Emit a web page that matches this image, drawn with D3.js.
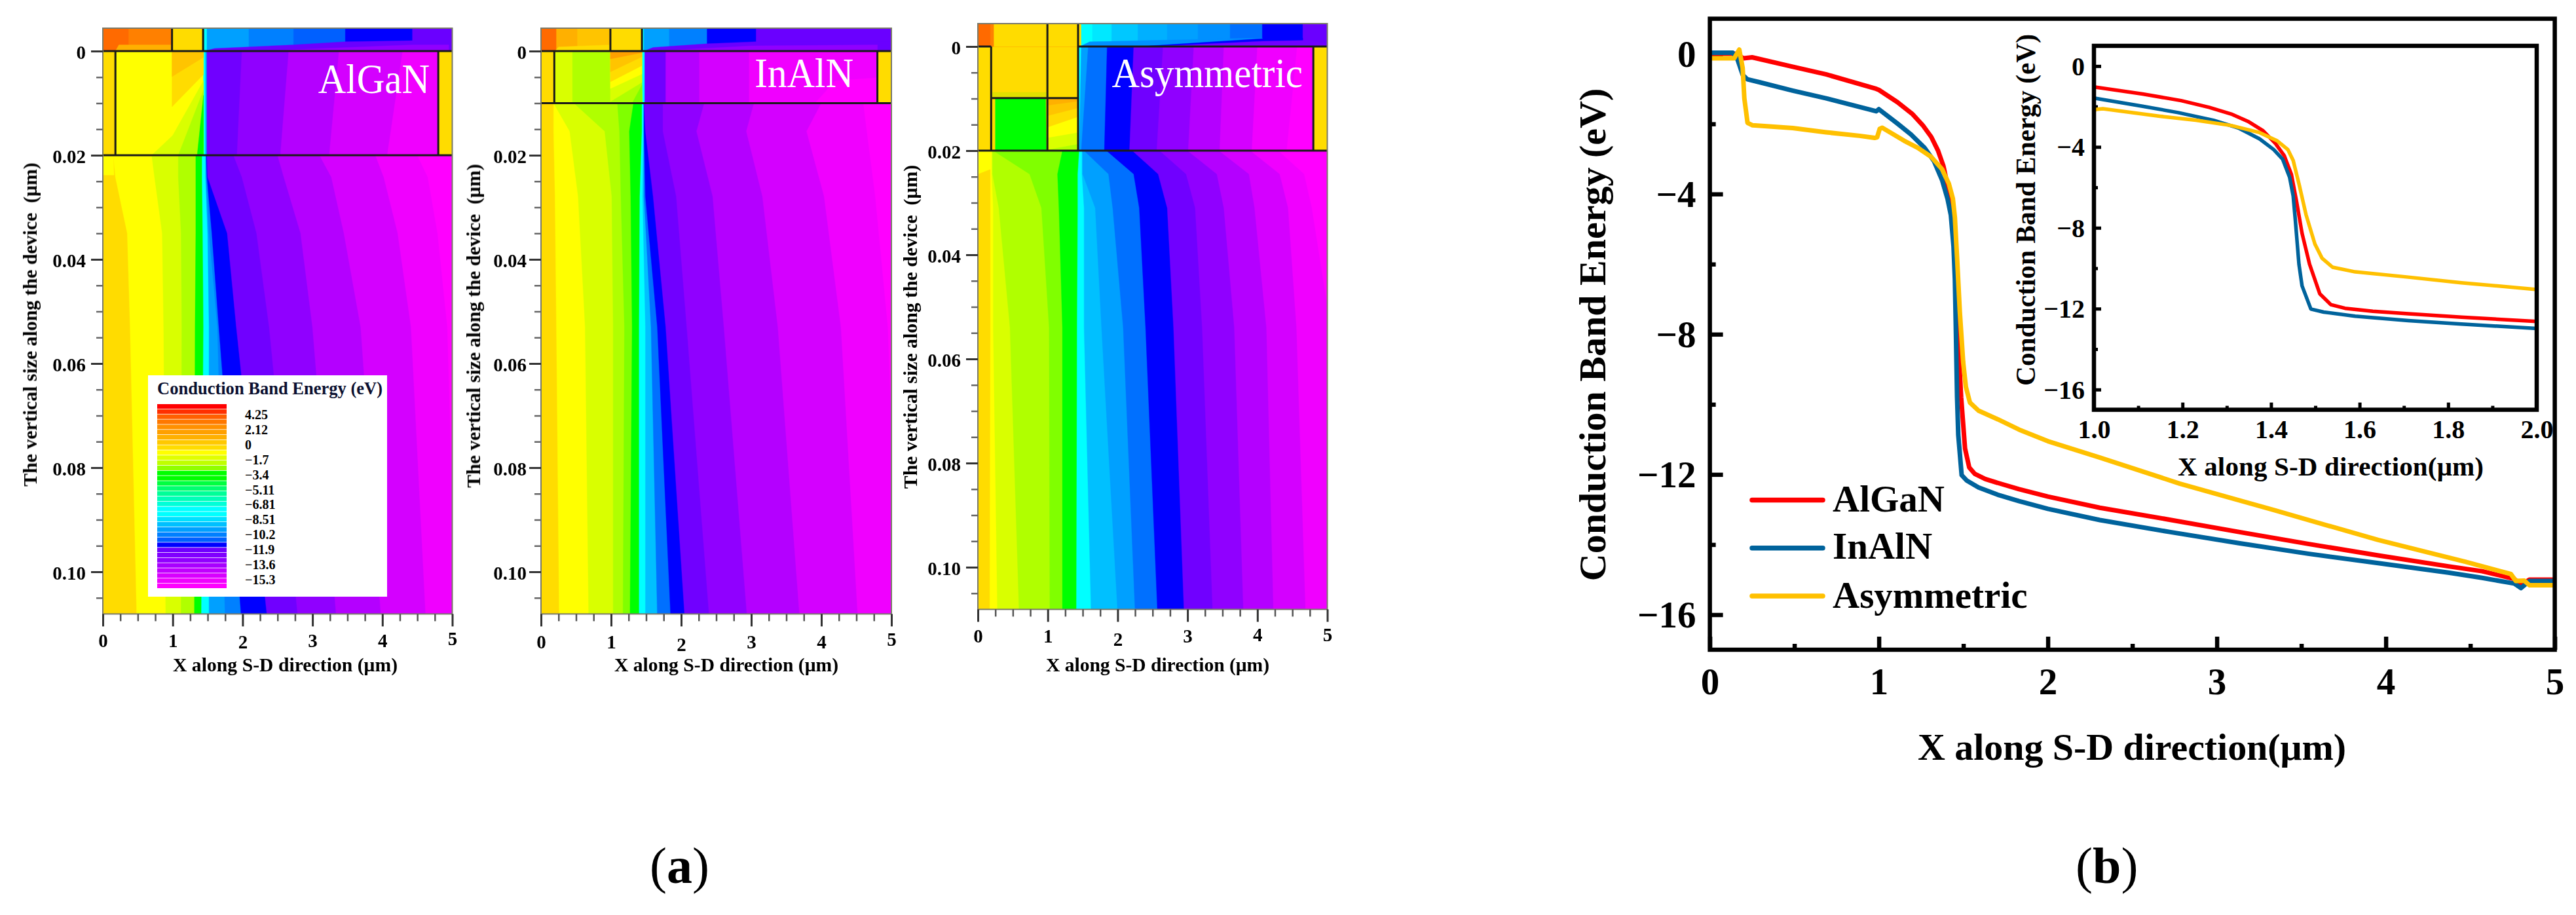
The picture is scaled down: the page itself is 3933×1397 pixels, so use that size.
<!DOCTYPE html>
<html><head><meta charset="utf-8">
<script src="https://cdn.jsdelivr.net/npm/d3@7/dist/d3.min.js"></script>
<style>
html,body{margin:0;padding:0;background:#fff}
svg{display:block}
text{font-family:"Liberation Serif","Times New Roman",serif;fill:#000}
</style></head><body>
<svg id="c" width="3933" height="1397"></svg>
<script>
// ---------- Line chart values: X position (um) and conduction band energy (eV)
const algan_x=[0,.15,.2,.25,.49,.69,.985,1,1.11,1.197,1.26,1.31,1.35,1.382,1.41,1.43,1.446,1.458,1.47,1.487,1.51,1.535,1.567,1.63,1.71,1.83,2,2.308,2.72,3.13,3.54,3.955,4.37,4.57,4.76,4.8,4.85,5];
const algan_e=[0,0,-.13,-.1,-.37,-.59,-1.0,-1.03,-1.38,-1.71,-2.04,-2.37,-2.76,-3.2,-3.83,-4.44,-5.36,-6.74,-8.27,-9.8,-11.26,-11.8,-11.98,-12.13,-12.25,-12.42,-12.63,-12.95,-13.29,-13.64,-13.98,-14.31,-14.62,-14.76,-14.98,-15.16,-15,-15];
const inaln_x=[0,.135,.164,.194,.223,.293,.49,.688,.985,1,1.11,1.19,1.27,1.326,1.374,1.406,1.426,1.442,1.45,1.455,1.463,1.47,1.49,1.519,1.59,1.71,1.83,2,2.308,2.72,3.13,3.54,3.955,4.37,4.57,4.76,4.8,4.85,5];
const inaln_e=[.03,.03,-.17,-.6,-.73,-.81,-1.05,-1.27,-1.64,-1.58,-1.99,-2.3,-2.68,-3.06,-3.6,-4.13,-4.6,-5.5,-6.43,-7.66,-9.8,-10.87,-12.02,-12.17,-12.37,-12.59,-12.76,-12.98,-13.3,-13.64,-13.96,-14.26,-14.53,-14.8,-14.95,-15.11,-15.24,-15.04,-15.04];
const asym_x=[0,.144,.174,.194,.204,.223,.253,.49,.688,.886,.975,.99,1.005,1.02,1.149,1.23,1.31,1.374,1.414,1.438,1.45,1.463,1.479,1.499,1.515,1.539,1.59,1.71,1.83,2,2.308,2.78,3.34,3.955,4.47,4.74,4.77,4.82,4.85,5];
const asym_e=[-.13,-.13,.12,-.4,-1.27,-1.97,-2.04,-2.12,-2.24,-2.34,-2.4,-2.38,-2.14,-2.11,-2.48,-2.68,-2.94,-3.29,-3.7,-4.13,-4.67,-5.82,-7.35,-8.8,-9.5,-9.95,-10.18,-10.44,-10.72,-11.05,-11.52,-12.26,-13.02,-13.87,-14.49,-14.84,-15.04,-15.03,-15.16,-15.16];
const seriesNames=["AlGaN","InAlN","Asymmetric"];
const mainXTicks=[0,1,2,3,4,5], mainXMinor=[.5,1.5,2.5,3.5,4.5];
const mainYTicks=[0,-4,-8,-12,-16], mainYMinor=[-2,-6,-10,-14];
const insetXTicks=[1,1.2,1.4,1.6,1.8,2], insetXMinor=[1.1,1.3,1.5,1.7,1.9];
const insetYTicks=[0,-4,-8,-12,-16], insetYMinor=[-2,-6,-10,-14];

// ---------- Contour panels: band boundary x (um) at given depths (um)
const panelNames=["AlGaN","InAlN","Asymmetric"];
const panelXTicks=[0,1,2,3,4,5], panelXMinor=[.25,.5,.75,1.25,1.5,1.75,2.25,2.5,2.75,3.25,3.5,3.75,4.25,4.5,4.75];
const panelYTicks=[0,.02,.04,.06,.08,.10], panelYMinor=[.005,.01,.015,.025,.03,.035,.045,.05,.055,.065,.07,.075,.085,.09,.095,.105];
const legendLabels=["4.25","2.12","0","−1.7","−3.4","−5.11","−6.81","−8.51","−10.2","−11.9","−13.6","−15.3"];
const legendStripes=["#ff0000","#ff3000","#ff6000","#ff7800","#ff9000","#ffa000","#ffb000","#ffc800","#ffdc00","#ffff00","#e0ff00","#c0ff00","#90ff00","#00ff00","#00ff00","#00ff40","#00ff70","#00ff98","#00ffb8","#00ffd8","#00ffff","#00ffff","#00e0ff","#00c0ff","#00a0ff","#0080ff","#0060ff","#0000ff","#7000ff","#8000ff","#9000ff","#a800ff","#c000ff","#d800ff","#f000ff","#ff00ff"];

const P={g:"#ffdc00",y:"#ffff00",l1:"#d9ff00",l2:"#b0ff00",l3:"#80ff00",gr:"#00ff00",c:"#00ffff",s:"#00c0ff",a1:"#00a0ff",a2:"#0070ff",b:"#0000ff",v1:"#7000ff",v2:"#9000ff",v3:"#b400ff",v4:"#d400ff",v5:"#f000ff",m:"#ff00ff",
 o1:"#ff6a00",o2:"#ff8000",o3:"#ffa000",o4:"#ffb000",o5:"#ffc400",c2:"#00e8ff",c3:"#00c8ff",c4:"#00b0ff",a3:"#0090ff",a4:"#0060ff",a5:"#0080ff",v0:"#6a00ff",p:"#e0e000"};

// AlGaN panel
const cap1=[["o2",.37],["g",.99],["c",1.435],["a1",1.49],["a5",2.09],["a4",2.73],["b",3.47],["v0",4.43]];
const capPatch1=[["o4",[[.18,0],[.23,-.0012],[.99,-.0012],[.99,0]]],["v0",[[1.45,0],[1.6,-.0005],[2.73,-.0012],[3.47,-.0018],[4.43,-.002],[5,-.002],[5,0]]],["v2",[[2.2,0],[3.5,-.0007],[4.43,-.0012],[4.95,-.0012],[4.95,0]]]];
const barrierDepth1=[0,.02];
const barrier1=[["y",[.18,.18]],["c",[1.44,1.44]],["a1",[1.47,1.47]],["v1",[1.49,1.49]],["v2",[1.99,1.92]],["v3",[2.66,2.54]],["v4",[3.38,3.24]],["v5",[4.29,4.07]],["g",[4.8,4.8]]];
const barrierPatch1=[["l1",[[.7,.02],[1,.0162],[1.44,.0057],[1.44,.02]]],["l2",[[1.08,.02],[1.44,.0075],[1.44,.02]]],["gr",[[1.35,.02],[1.44,.0085],[1.44,.02]]],["g",[[.99,0],[1.44,0],[1.44,.0045],[.99,.0107]]],["o5",[[.99,0],[1.44,0],[1.44,.0012],[.99,.0049]]]];
const bulkDepth1=[.02,.0242,.035,.053,.1085];
const bulk1=[["y",[.15,.18,.35,.39,.485]],["l1",[.7,.74,.85,.87,.9]],["l2",[1.08,1.08,1.12,1.13,1.12]],["gr",[1.33,1.33,1.33,1.32,1.31]],["c",[1.42,1.42,1.43,1.44,1.41]],["a1",[1.47,1.47,1.5,1.52,1.52]],["a5",[1.475,1.48,1.52,1.64,1.75]],["b",[1.48,1.49,1.56,1.66,1.98]],["v1",[1.49,1.5,1.78,1.91,2.35]],["v2",[1.87,1.99,2.2,2.38,2.79]],["v3",[2.5,2.59,2.83,3,3.34]],["v4",[3.1,3.27,3.45,3.69,3.98]],["v5",[3.9,4.02,4.22,4.41,4.62]],["m",[4.5,4.65,4.79,4.93,5.05]]];
const bulkPatch1=[["y",[[0,.02],[.15,.02],[.16,.0238],[0,.0238]]]];
const lines1=[[0,0,5,0],[0,.02,5,.02],[.18,0,.18,.02],[4.8,0,4.8,.02],[.99,-.0044,.99,0],[1.435,-.0044,1.435,0]];

// InAlN panel
const cap2=[["o4",.22],["o5",.52],["g",.99],["c",1.44],["a1",1.47],["a5",1.83],["b",2.37],["v0",3.07]];
const capPatch2=[["g",[[.2,0],[.25,-.0008],[.99,-.0012],[.99,0]]],["v0",[[1.47,0],[1.6,-.0007],[2.37,-.0014],[3.07,-.0018],[5,-.0018],[5,0]]],["v2",[[1.6,0],[3,-.001],[4.8,-.0012],[4.8,0]]]];
const barrierDepth2=[0,.01];
const barrier2=[["l1",[.19,.19]],["l2",[.45,.45]],["c",[1.44,1.45]],["v1",[1.48,1.48]],["v3",[1.78,1.78]],["v4",[2.26,2.26]],["v5",[2.97,2.97]],["g",[4.8,4.8]]];
const barrierPatch2=[["l3",[[1.3,.01],[1.44,.0065],[1.44,.01]]],["l1",[[.99,0],[1.44,0],[1.44,.006],[.99,.0097]]],["y",[[.99,0],[1.44,0],[1.44,.0044],[.99,.0072]]],["g",[[.99,0],[1.44,0],[1.44,.0028],[.99,.0059]]],["o5",[[.99,0],[1.44,0],[1.44,.0011],[.99,.004]]],["o3",[[.99,0],[1.44,0],[1.44,.0003],[.99,.0015]]],["m",[[3.91,.01],[4.2,.0057],[4.8,.0051],[4.8,.01]]]];
const bulkDepth2=[.01,.0154,.0279,.053,.1085];
const bulk2=[["y",[.18,.18,.2,.22,.26]],["l1",[.18,.41,.53,.63,.68]],["l2",[.47,.91,1.01,1.03,1.03]],["l3",[1.09,1.12,1.14,1.19,1.17]],["gr",[1.32,1.26,1.28,1.3,1.27]],["c",[1.44,1.44,1.41,1.4,1.4]],["s",[1.46,1.46,1.45,1.49,1.49]],["a2",[1.47,1.47,1.47,1.57,1.66]],["b",[1.47,1.47,1.49,1.66,1.85]],["v1",[1.47,1.49,1.6,1.78,2.05]],["v2",[1.74,1.74,1.93,2.08,2.4]],["v3",[2.33,2.22,2.45,2.61,2.94]],["v4",[3.04,2.93,3.16,3.38,3.69]],["v5",[4,3.79,4.04,4.28,4.52]],["m",[4.6,4.65,4.77,4.95,5.1]]];
const bulkPatch2=[];
const lines2=[[0,0,5,0],[0,.01,5,.01],[.19,0,.19,.01],[4.8,0,4.8,.01],[.99,-.0044,.99,0],[1.44,-.0044,1.44,0]];

// Asymmetric panel
const cap3=[["o2",.18],["g",.23],["c",1.48],["c2",1.64],["c3",1.915],["c4",2.29],["a1",2.71],["a3",3.15],["a2",3.61],["b",4.07],["v0",4.65]];
const capPatch3=[["a3",[[1.46,0],[1.6,-.0009],[3.6,-.0015],[4.07,-.0016],[4.07,0]]],["b",[[2.31,0],[4.07,-.0015],[4.65,-.0016],[4.65,0]]],["v1",[[2.5,0],[4.07,-.001],[4.75,-.0012],[4.98,-.0005],[4.98,0]]]];
const barrierDepth3=[0,.02];
const barrier3=[["c",[1.44,1.43]],["a1",[1.48,1.45]],["a2",[1.58,1.48]],["b",[1.85,1.81]],["v1",[2.23,2.17]],["v2",[2.65,2.56]],["v3",[3.09,3.01]],["v4",[3.52,3.46]],["v5",[4,3.92]],["m",[4.57,4.42]],["g",[4.8,4.8]]];
const barrierPatch3=[["p",[[.2,.0088],[.995,.0088],[.995,.01],[.2,.01]]],["gr",[[.25,.01],[.97,.01],[.98,.02],[.25,.02]]],["l2",[[.995,.01],[1.434,.01],[1.434,.02],[.995,.02]]],["l1",[[.995,.01],[1.434,.01],[1.434,.0187],[.995,.0198]]],["y",[[.995,.01],[1.434,.01],[1.434,.0165],[.995,.0175]]],["g",[[.995,.01],[1.434,.01],[1.434,.0135],[.995,.0155]]],["o5",[[.995,.01],[1.434,.01],[1.434,.0118],[.995,.0133]]],["o4",[[.995,.01],[1.434,.01],[1.434,.0105],[.995,.0113]]]];
const bulkDepth3=[.02,.0245,.031,.054,.1085];
const bulk3=[["y",[.18,.18,.18,.18,.17]],["l1",[.2,.2,.22,.22,.28]],["l2",[.21,.21,.3,.46,.59]],["l3",[.22,.74,.91,1.02,1.03]],["gr",[1.21,1.14,1.16,1.21,1.21]],["c",[1.45,1.43,1.43,1.42,1.41]],["s",[1.49,1.49,1.52,1.52,1.62]],["a1",[1.5,1.5,1.68,1.77,2]],["a2",[1.52,1.87,1.93,2.08,2.25]],["b",[1.84,2.23,2.31,2.4,2.57]],["v1",[2.21,2.58,2.71,2.8,2.95]],["v2",[2.6,2.98,3.11,3.21,3.36]],["v3",[3,3.42,3.52,3.67,3.8]],["v4",[3.45,3.88,3.96,4.13,4.23]],["v5",[3.9,4.32,4.44,4.56,4.69]],["m",[4.3,4.67,4.78,5.05,5.1]]];
const bulkPatch3=[["y",[[0,.02],[.19,.02],[.19,.0235],[0,.0245]]]];
const lines3=[[0,0,.19,0],[1.434,0,5,0],[0,.02,5,.02],[.19,0,.19,.02],[.995,-.0043,.995,.02],[1.434,-.0043,1.434,.02],[.2,.0099,1.434,.0099],[4.8,0,4.8,.02]];

const svg=d3.select("#c");
const bold=s=>s.attr("font-weight","bold");
const lineGen=d3.line();

// ---------- Panel (a)
const gA=svg.append("g").style("filter","blur(0.7px)");
const layouts=[
 {L:157,R:690.5,Y0:78,lbl:8,yt:[56,495.5],xt:[264,607],name:[656,142],data:[cap1,capPatch1,barrierDepth1,barrier1,barrierPatch1,bulkDepth1,bulk1,bulkPatch1,lines1]},
 {L:826,R:1361,Y0:78,lbl:4,yt:[733,497.5],xt:[938,1280],name:[1303,133],data:[cap2,capPatch2,barrierDepth2,barrier2,barrierPatch2,bulkDepth2,bulk2,bulkPatch2,lines2]},
 {L:1493,R:2026.5,Y0:71,lbl:8,yt:[1400,499],xt:[1597,1938],name:[1989,133],data:[cap3,capPatch3,barrierDepth3,barrier3,barrierPatch3,bulkDepth3,bulk3,bulkPatch3,lines3]}
];
const tickDy=[[0,0,2,0,0,-3],[2,2,6,2,2,-2],[0,0,5,0,-2,-2]];
layouts.forEach((lay,i)=>{
 const [cap,capP,bDepth,bar,barP,kDepth,bulk,bulkP,lines]=lay.data;
 const yMin=-.0044,yMax=.1081;
 const x=d3.scaleLinear([0,5],[lay.L,lay.R]);
 const y=d3.scaleLinear([0,.1],[lay.Y0,lay.Y0+795]);
 const id="clipP"+i;
 gA.append("clipPath").attr("id",id).append("rect").attr("x",x(0)).attr("y",y(yMin)).attr("width",x(5)-x(0)).attr("height",y(yMax)-y(yMin));
 const g=gA.append("g").attr("clip-path",`url(#${id})`);
 const poly=(key,pts)=>g.append("path").attr("d",lineGen(pts.map(p=>[x(p[0]),y(p[1])]))+"Z").attr("fill",P[key]).attr("stroke",P[key]).attr("stroke-width",.4);
 // bands: each band fills from its boundary to beyond the right edge
 const bands=(depth,list)=>list.forEach(([key,xs])=>{
   const pts=xs.map((v,k)=>[v,depth[k]]);
   pts.push([5.3,depth[depth.length-1]],[5.3,depth[0]]);
   poly(key,pts);
 });
 // base
 poly("g",[[0,-.0002],[5.3,-.0002],[5.3,yMax],[0,yMax]]);
 // cap layer
 const capDepth=[yMin,0];
 poly("o1",[[0,yMin],[5.3,yMin],[5.3,0],[0,0]]);
 bands(capDepth,cap.map(([k,v])=>[k,[v,v]]));
 capP.forEach(([k,p])=>poly(k,p));
 // barrier
 bands(bDepth,bar);
 barP.forEach(([k,p])=>poly(k,p));
 // bulk
 bands(kDepth,bulk);
 bulkP.forEach(([k,p])=>poly(k,p));
 // structure lines
 lines.forEach(l=>g.append("line").attr("x1",x(l[0])).attr("y1",y(l[1])).attr("x2",x(l[2])).attr("y2",y(l[3])).attr("stroke","#1a1a1a").attr("stroke-width",3));
 // frame
 gA.append("rect").attr("x",x(0)).attr("y",y(yMin)).attr("width",x(5)-x(0)).attr("height",y(yMax)-y(yMin)).attr("fill","none").attr("stroke","#7a7a6a").attr("stroke-width",2);
 // axes
 const bottom=y(yMax);
 const ax=gA.append("g").attr("transform",`translate(0,${bottom})`).call(d3.axisBottom(x).tickValues(panelXTicks).tickSize(19).tickPadding(11).tickFormat(d3.format("d")));
 ax.select(".domain").remove();
 ax.selectAll("line").attr("stroke","#333").attr("stroke-width",3);
 ax.selectAll("text").attr("font-size",29).call(bold).attr("y",(d,k)=>30+tickDy[i][k]).attr("dy","0.71em");
 const axm=gA.append("g").attr("transform",`translate(0,${bottom})`).call(d3.axisBottom(x).tickValues(panelXMinor).tickSize(11).tickFormat(""));
 axm.select(".domain").remove();
 axm.selectAll("line").attr("stroke","#555").attr("stroke-width",2.5);
 const ay=gA.append("g").attr("transform",`translate(${x(0)},0)`).call(d3.axisLeft(y).tickValues(panelYTicks).tickSize(18).tickPadding(lay.lbl).tickFormat(d=>d===0?"0":d3.format(".2f")(d)));
 ay.select(".domain").remove();
 ay.selectAll("line").attr("stroke","#333").attr("stroke-width",3);
 ay.selectAll("text").attr("font-size",29).call(bold).attr("dy","0.4em");
 const aym=gA.append("g").attr("transform",`translate(${x(0)},0)`).call(d3.axisLeft(y).tickValues(panelYMinor).tickSize(10).tickFormat(""));
 aym.select(".domain").remove();
 aym.selectAll("line").attr("stroke","#666").attr("stroke-width",2.5);
 // titles
 gA.append("text").attr("x",lay.xt[0]).attr("y",1025).attr("font-size",29.6).call(bold).attr("textLength",lay.xt[1]-lay.xt[0]).text("X along S-D direction (μm)");
 gA.append("text").attr("transform",`translate(${lay.yt[0]},${lay.yt[1]}) rotate(-90)`).attr("text-anchor","middle").attr("font-size",29.8).call(bold).text("The vertical size along the device\u00a0\u00a0(μm)");
 gA.append("text").attr("transform",`translate(${lay.name[0]},${lay.name[1]}) scale(1,1.07)`).attr("text-anchor","end").attr("font-size",59).style("fill","#fff").text(panelNames[i]);
});

// legend in first panel
const lg=gA.append("g");
lg.append("rect").attr("x",226).attr("y",573).attr("width",365).attr("height",338).attr("fill","#fff");
lg.append("text").attr("x",240).attr("y",602).attr("font-size",26.5).call(bold).attr("textLength",344).style("fill","#0b1030").text("Conduction Band Energy (eV)");
const stripeY=d3.scaleBand(d3.range(legendStripes.length),[617,898]).paddingInner(.1);
lg.selectAll("rect.s").data(legendStripes).join("rect").attr("class","s").attr("x",240).attr("width",106).attr("y",(d,i)=>stripeY(i)).attr("height",stripeY.bandwidth()).attr("fill",d=>d);
const labelY=d3.scalePoint(legendLabels,[633,885]);
lg.selectAll("text.l").data(legendLabels).join("text").attr("class","l").attr("x",374).attr("y",d=>labelY(d)).attr("dy","0.35em").attr("font-size",20).call(bold).text(d=>d);

// ---------- Panel (b)
const curves=[[algan_x,algan_e,"#ff0000"],[inaln_x,inaln_e,"#00639c"],[asym_x,asym_e,"#ffc000"]];
const fmt=d=>String(d).replace("-","−");
function chart(o){
 const x=d3.scaleLinear(o.xd,o.xr), y=d3.scaleLinear(o.yd,o.yr);
 const line=d3.line().x(d=>x(d[0])).y(d=>y(d[1]));
 const cid="clip"+o.id;
 svg.append("clipPath").attr("id",cid).append("rect").attr("x",o.xr[0]).attr("y",o.yr[1]).attr("width",o.xr[1]-o.xr[0]).attr("height",o.yr[0]-o.yr[1]);
 const g=svg.append("g");
 const mk=(axis,tr)=>{const a=g.append("g").attr("transform",tr).call(axis);a.select(".domain").remove();a.selectAll("line").attr("stroke","#000").attr("stroke-width",o.tw);return a;};
 const bx=`translate(0,${o.yr[0]})`, ly=`translate(${o.xr[0]},0)`;
 mk(d3.axisBottom(x).tickValues(o.xt).tickSize(-o.maj).tickPadding(o.padX).tickFormat(o.xf),bx).selectAll("text").attr("font-size",o.fs).call(bold);
 mk(d3.axisBottom(x).tickValues(o.xm).tickSize(-o.min).tickFormat(""),bx);
 mk(d3.axisLeft(y).tickValues(o.yt).tickSize(-o.maj).tickPadding(o.padY).tickFormat(fmt),ly).selectAll("text").attr("font-size",o.fs).call(bold).attr("dy","0.34em");
 mk(d3.axisLeft(y).tickValues(o.ym).tickSize(-o.min).tickFormat(""),ly);
 curves.forEach(([xs,es,c])=>g.append("path").datum(xs.map((v,i)=>[v,es[i]])).attr("d",line).attr("clip-path",`url(#${cid})`).attr("fill","none").attr("stroke",c).attr("stroke-width",o.sw).attr("stroke-linejoin","round"));
 g.append("rect").attr("x",o.xr[0]).attr("y",o.yr[1]).attr("width",o.xr[1]-o.xr[0]).attr("height",o.yr[0]-o.yr[1]).attr("fill","none").attr("stroke","#000").attr("stroke-width",o.fw);
}
chart({id:"m",xd:[0,5],xr:[2610.6,3900.6],yd:[-17,1],yr:[992,28.6],xt:mainXTicks,xm:mainXMinor,yt:mainYTicks,ym:mainYMinor,maj:20,min:9,tw:6.5,fw:6.5,sw:7,fs:57,padX:28,padY:21,xf:d3.format("d")});
chart({id:"i",xd:[1,2],xr:[3197,3873],yd:[-17,1],yr:[625.6,70],xt:insetXTicks,xm:insetXMinor,yt:insetYTicks,ym:insetYMinor,maj:11,min:6,tw:5,fw:6.5,sw:5.5,fs:40,padX:15,padY:14,xf:d3.format(".1f")});

svg.append("text").attr("x",2928).attr("y",1160).attr("font-size",58).call(bold).attr("textLength",654).text("X along S-D direction(μm)");
svg.append("text").attr("transform","translate(2451,511) rotate(-90)").attr("text-anchor","middle").attr("font-size",58).call(bold).text("Conduction Band Energy (eV)");
svg.append("text").attr("x",3325).attr("y",726).attr("font-size",41).call(bold).attr("textLength",467).text("X along S-D direction(μm)");
svg.append("text").attr("transform","translate(3107,320.5) rotate(-90)").attr("text-anchor","middle").attr("font-size",41.4).call(bold).text("Conduction Band Energy (eV)");

// legend of line chart
const legY=d3.scalePoint(seriesNames,[763.6,910]);
const legBase=[780.6,853,928];
seriesNames.forEach((n,i)=>{
 svg.append("line").attr("x1",2675).attr("x2",2783).attr("y1",legY(n)).attr("y2",legY(n)).attr("stroke",curves[i][2]).attr("stroke-width",7.5).attr("stroke-linecap","round");
 svg.append("text").attr("x",2798).attr("y",legBase[i]).attr("font-size",57).call(bold).text(n);
});

// sub-figure labels
function sub(xp,letter){
 const t=svg.append("text").attr("x",xp).attr("y",1348).attr("font-size",78);
 t.append("tspan").text("(");t.append("tspan").attr("font-weight","bold").text(letter);t.append("tspan").text(")");
}
sub(992,"a");sub(3169,"b");
</script>
</body></html>
